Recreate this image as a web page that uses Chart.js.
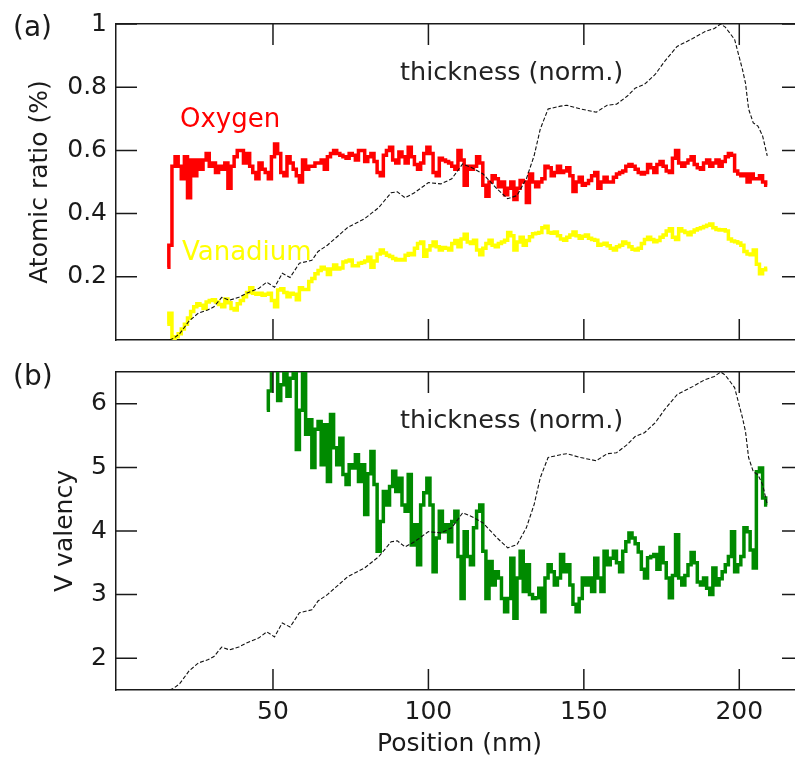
<!DOCTYPE html>
<html><head><meta charset="utf-8">
<script src="https://cdn.jsdelivr.net/npm/chart.js@4.4.1/dist/chart.umd.min.js"></script>
<style>
html,body{margin:0;padding:0;background:#fff;overflow:hidden;width:795px;height:763px;}
#wa{position:absolute;left:0;top:0;width:806px;height:360px;}
#wb{position:absolute;left:0;top:360px;width:806px;height:403px;}
canvas{display:block;}
</style></head><body>
<div id="wa"><canvas id="ca" width="806" height="360"></canvas></div>
<div id="wb"><canvas id="cb" width="806" height="403"></canvas></div>
<script>
// ---------- data ----------
const xTicks = [50, 100, 150, 200];
const ratioTicks = [0.2, 0.4, 0.6, 0.8, 1];
const valencyTicks = [2, 3, 4, 5, 6];
const xTitle = 'Position (nm)';

// sampling positions (nm) for the noisy profiles
const positions = [
  16,17,18,19,20,21,22,23,24,25,26,27,28,29,30,31,32,33,34,35,
  36,37,38,39,40,41,42,43,44,45,46,47,48,49,50,51,52,53,54,55,
  56,57,58,59,60,61,62,63,64,65,66,67,68,69,70,71,72,73,74,75,
  76,77,78,79,80,81,82,83,84,85,86,87,88,89,90,91,92,93,94,95,
  96,97,98,99,100,101,102,103,104,105,106,107,108,109,110,111,112,113,114,115,
  116,117,118,119,120,121,122,123,124,125,126,127,128,129,130,131,132,133,134,135,
  136,137,138,139,140,141,142,143,144,145,146,147,148,149,150,151,152,153,154,155,
  156,157,158,159,160,161,162,163,164,165,166,167,168,169,170,171,172,173,174,175,
  176,177,178,179,180,181,182,183,184,185,186,187,188,189,190,191,192,193,194,195,
  196,197,198,199,200,201,202,203,204,205,206,207,208,209
];

const oxygen = [
  0.23,0.30,0.55,0.58,0.55,0.51,0.58,0.45,0.57,0.52,
  0.57,0.54,0.57,0.59,0.55,0.56,0.53,0.55,0.54,0.56,
  0.48,0.55,0.58,0.60,0.60,0.56,0.59,0.55,0.53,0.51,
  0.56,0.54,0.53,0.51,0.58,0.62,0.59,0.53,0.52,0.58,
  0.56,0.54,0.52,0.50,0.57,0.54,0.55,0.55,0.56,0.56,
  0.57,0.54,0.58,0.59,0.60,0.59,0.585,0.58,0.575,0.59,
  0.585,0.57,0.60,0.60,0.565,0.58,0.59,0.565,0.53,0.52,
  0.585,0.60,0.61,0.57,0.56,0.595,0.58,0.56,0.61,0.58,
  0.555,0.54,0.56,0.59,0.61,0.59,0.53,0.52,0.575,0.57,
  0.565,0.56,0.55,0.54,0.60,0.57,0.49,0.55,0.54,0.55,
  0.58,0.56,0.49,0.455,0.50,0.52,0.51,0.485,0.50,0.46,
  0.48,0.50,0.445,0.48,0.505,0.50,0.435,0.525,0.50,0.485,
  0.50,0.51,0.55,0.545,0.52,0.53,0.55,0.53,0.535,0.545,
  0.52,0.47,0.50,0.515,0.49,0.495,0.505,0.52,0.53,0.48,
  0.50,0.515,0.50,0.50,0.515,0.525,0.53,0.535,0.55,0.555,
  0.55,0.54,0.53,0.525,0.53,0.555,0.545,0.53,0.555,0.565,
  0.55,0.535,0.53,0.575,0.60,0.56,0.55,0.56,0.57,0.58,
  0.555,0.545,0.54,0.56,0.57,0.55,0.56,0.57,0.55,0.565,
  0.58,0.59,0.585,0.535,0.525,0.52,0.525,0.50,0.525,0.51,
  0.51,0.52,0.50,0.49
];

const vanadium = [
  0.05,0.085,0.005,0.01,0.02,0.035,0.05,0.07,0.09,0.105,
  0.115,0.11,0.10,0.12,0.125,0.127,0.12,0.112,0.105,0.13,
  0.118,0.10,0.095,0.115,0.125,0.137,0.15,0.165,0.148,0.145,
  0.148,0.142,0.145,0.148,0.125,0.105,0.158,0.162,0.15,0.137,
  0.148,0.145,0.127,0.165,0.16,0.16,0.185,0.195,0.21,0.22,
  0.23,0.225,0.207,0.225,0.237,0.225,0.228,0.247,0.25,0.253,
  0.235,0.235,0.243,0.245,0.25,0.262,0.23,0.25,0.272,0.285,
  0.275,0.268,0.264,0.258,0.253,0.255,0.253,0.268,0.274,0.27,
  0.29,0.305,0.31,0.265,0.285,0.298,0.31,0.295,0.285,0.293,
  0.29,0.285,0.305,0.315,0.295,0.32,0.335,0.31,0.305,0.316,
  0.285,0.27,0.29,0.305,0.316,0.30,0.295,0.305,0.31,0.316,
  0.34,0.33,0.285,0.31,0.325,0.30,0.315,0.327,0.336,0.338,
  0.34,0.355,0.36,0.34,0.338,0.342,0.33,0.32,0.316,0.325,
  0.332,0.342,0.33,0.322,0.328,0.332,0.322,0.318,0.316,0.30,
  0.303,0.306,0.298,0.29,0.285,0.295,0.30,0.31,0.305,0.295,
  0.287,0.285,0.29,0.305,0.318,0.325,0.318,0.311,0.315,0.325,
  0.332,0.345,0.352,0.325,0.318,0.352,0.345,0.34,0.333,0.342,
  0.348,0.352,0.355,0.359,0.363,0.367,0.355,0.35,0.348,0.349,
  0.345,0.32,0.313,0.311,0.307,0.30,0.28,0.272,0.27,0.285,
  0.24,0.21,0.222,0.227
];

// V valency starts at 48 nm
const valencyStart = 48;
const valency = [
  5.9,6.2,6.7,6.7,6.05,6.3,6.7,6.12,6.4,6.7,
  5.28,5.9,6.7,5.52,5.75,5.0,5.6,5.72,5.04,5.67,
  4.78,5.83,5.31,5.04,5.46,4.89,4.73,5.04,4.99,5.2,
  4.78,5.04,4.26,4.9,5.25,4.73,3.68,4.15,4.62,4.41,
  4.7,4.94,4.62,4.83,4.41,4.31,4.89,3.78,4.1,3.47,
  4.41,4.6,4.83,4.41,3.36,3.89,4.31,3.99,4.1,3.83,
  4.15,4.31,3.6,2.94,3.99,3.6,3.47,4.05,4.31,4.41,
  3.68,2.94,3.52,3.15,3.36,3.26,2.94,2.73,2.94,3.57,
  2.63,3.26,3.68,3.05,3.47,3.0,2.94,2.95,3.1,2.73,
  3.26,3.47,3.36,3.15,3.26,3.63,3.36,3.47,3.15,2.85,
  2.73,2.94,3.26,3.15,3.26,3.05,3.57,3.26,3.05,3.68,
  3.47,3.57,3.68,3.5,3.36,3.68,3.83,3.97,3.89,3.8,
  3.67,3.4,3.26,3.58,3.6,3.63,3.4,3.74,3.5,3.26,
  2.95,3.3,3.94,3.26,3.15,3.3,3.47,3.66,3.5,3.2,
  3.15,3.26,3.1,3.0,3.42,3.15,3.25,3.36,3.47,3.6,
  3.99,3.36,3.47,3.6,4.05,3.99,3.7,3.42,4.93,4.99,
  4.52,4.41
];

// normalized thickness profile
const thickPos = [16.7,18,20,23,26,29,31,33.5,36,39,41.5,45.5,48,50.5,53,55.5,58.5,62.5,64.5,67.5,
  71,74,79.5,84,88,90,92.5,95.5,100,104,107.5,111,114,117.5,122,125.5,128.5,131.5,134,136,
  138.5,142.5,144.5,149,154,157.5,160.5,164,166.5,169.5,173,176,180,185,189,192,194,195.5,198.5,201,
  202,203,204.5,206,207.5,209];
const thickVal = [0,0.005,0.02,0.06,0.085,0.095,0.105,0.135,0.126,0.135,0.148,0.164,0.183,0.167,0.211,0.198,0.243,0.252,0.28,0.30,
  0.33,0.356,0.384,0.419,0.466,0.469,0.45,0.466,0.498,0.494,0.51,0.557,0.545,0.526,0.479,0.447,0.457,0.51,0.583,0.668,
  0.731,0.74,0.743,0.731,0.721,0.743,0.746,0.772,0.797,0.809,0.841,0.882,0.929,0.954,0.976,0.986,1.0,0.99,0.951,0.857,
  0.813,0.731,0.687,0.677,0.646,0.583];

// ---------- styling / layout ----------
const X_MIN = -0.5, X_MAX = 220.5;
const INK = '#1a1a1a';
const FF = 'DejaVu Sans';
const TICK_LEN = 21;
Chart.defaults.font.family = FF;
Chart.defaults.color = INK;

const pts = (xs, ys) => ys.map((y, i) => ({x: xs[i], y}));
const valencyPos = positions.filter(p => p >= valencyStart);

function noGrid() { return {drawOnChartArea:false, drawTicks:false}; }
function frame() { return {display:true, color:INK, width:1.5}; }
function fixedTicks(list) { return s => { s.ticks = list.map(v => ({value: v})); }; }
function fitTo(w, h) {
  return s => {
    if (w !== null) s.width = w;
    if (h !== null) s.height = h;
    s.paddingTop = 0; s.paddingBottom = 0; s.paddingLeft = 0; s.paddingRight = 0;
  };
}

function makeScales(cfg) {
  const sc = {
    x: {type:'linear', axis:'x', position:'bottom', min:X_MIN, max:X_MAX, bounds:'data',
      afterBuildTicks: fixedTicks(xTicks), afterFit: fitTo(null, cfg.xHeight),
      grid: noGrid(), border: frame(),
      ticks: {display: cfg.xLabels, padding: 7.5, font:{size:25}, color:INK, maxRotation:0, autoSkip:false, callback: v => String(v)},
      title: {display: cfg.xLabels, text: xTitle, font:{size:25}, color:INK, padding:{top:0, bottom:4}}},
    x2: {type:'linear', axis:'x', position:'top', min:X_MIN, max:X_MAX, bounds:'data',
      afterBuildTicks: fixedTicks(xTicks), afterFit: fitTo(null, 0),
      grid: noGrid(), border: frame(), ticks:{display:false}},
    y: {type:'linear', axis:'y', position:'left', min:cfg.yMin, max:cfg.yMax, bounds:'data',
      afterBuildTicks: fixedTicks(cfg.yTicks), afterFit: fitTo(116, null),
      grid: noGrid(), border: frame(),
      ticks: {padding:9, font:{size:25}, color:INK, autoSkip:false, callback: v => String(v)},
      title: {display:true, text:cfg.yTitle, font:{size:25}, color:INK, padding:{top:cfg.yTitlePad, bottom:0}}},
    y2: {type:'linear', axis:'y', position:'right', min:cfg.yMin, max:cfg.yMax, bounds:'data',
      afterBuildTicks: fixedTicks(cfg.yTicks), afterFit: fitTo(0, null),
      grid: noGrid(), border: frame(), ticks:{display:false}}
  };
  if (cfg.extra) Object.assign(sc, cfg.extra);
  return sc;
}

// tick marks pointing into the plot, placed through the chart's own scales
const insideTicks = {
  id: 'insideTicks',
  afterDatasetsDraw(chart) {
    const ctx = chart.ctx, a = chart.chartArea;
    ctx.save();
    ctx.strokeStyle = INK;
    ctx.lineWidth = 1.5;
    ctx.beginPath();
    const sides = [['x', 'bottom'], ['x2', 'top'], ['y', 'left'], ['y2', 'right']];
    for (const [id, side] of sides) {
      const s = chart.scales[id];
      for (const t of s.ticks) {
        const p = s.getPixelForValue(t.value);
        if (side === 'bottom') { ctx.moveTo(p, a.bottom); ctx.lineTo(p, a.bottom - TICK_LEN); }
        else if (side === 'top') { ctx.moveTo(p, a.top); ctx.lineTo(p, a.top + TICK_LEN); }
        else if (side === 'left') { ctx.moveTo(a.left, p); ctx.lineTo(a.left + TICK_LEN, p); }
        else { ctx.moveTo(a.right, p); ctx.lineTo(a.right - TICK_LEN, p); }
      }
    }
    ctx.stroke();
    ctx.restore();
  }
};

function textPlugin(items) {
  return {
    id: 'texts',
    afterDraw(chart) {
      const ctx = chart.ctx;
      ctx.save();
      ctx.textAlign = 'left';
      ctx.textBaseline = 'alphabetic';
      for (const t of items) {
        ctx.font = t.size + 'px "' + FF + '"';
        ctx.fillStyle = t.color;
        ctx.fillText(t.text, t.x, t.y);
      }
      ctx.restore();
    }
  };
}

const thickStyle = {borderColor:'#111', borderWidth:1.1, borderDash:[4,2], pointRadius:0, tension:0, clip:0};
const noisyStyle = c => ({borderColor:c, borderWidth:3.5, pointRadius:0, stepped:'middle', borderJoinStyle:'miter', borderCapStyle:'butt', clip:0});

const common = {
  responsive:false, animation:false, devicePixelRatio:1, events:[],
  plugins:{legend:{display:false}, tooltip:{enabled:false}}
};

new Chart(document.getElementById('ca'), {
  type:'line',
  data:{datasets:[
    Object.assign({label:'thickness (norm.)', data: pts(thickPos, thickVal), xAxisID:'x', yAxisID:'y'}, thickStyle),
    Object.assign({label:'Oxygen', data: pts(positions, oxygen), xAxisID:'x', yAxisID:'y'}, noisyStyle('#ff0000')),
    Object.assign({label:'Vanadium', data: pts(positions, vanadium), xAxisID:'x', yAxisID:'y'}, noisyStyle('#ffff00'))
  ]},
  options: Object.assign({}, common, {
    layout:{autoPadding:false, padding:{left:0, right:3, top:24, bottom:0}},
    scales: makeScales({yMin:0, yMax:1, yTicks:ratioTicks, yTitle:'Atomic ratio (%)', yTitlePad:25, xLabels:false, xHeight:20})
  }),
  plugins:[insideTicks, textPlugin([
    {text:'(a)', x:13, y:36, size:28, color:INK},
    {text:'Oxygen', x:180, y:127, size:26, color:'#ff0000'},
    {text:'Vanadium', x:182, y:260, size:26, color:'#ffff00'},
    {text:'thickness (norm.)', x:400, y:80, size:25.5, color:'#222'}
  ])]
});

new Chart(document.getElementById('cb'), {
  type:'line',
  data:{datasets:[
    Object.assign({label:'thickness (norm.)', data: pts(thickPos, thickVal), xAxisID:'x', yAxisID:'yT'}, thickStyle),
    Object.assign({label:'V valency', data: pts(valencyPos, valency), xAxisID:'x', yAxisID:'y'}, noisyStyle('#008a00'))
  ]},
  options: Object.assign({}, common, {
    layout:{autoPadding:false, padding:{left:0, right:3, top:12, bottom:0}},
    scales: makeScales({yMin:1.5, yMax:6.5, yTicks:valencyTicks, yTitle:'V valency', yTitlePad:50, xLabels:true, xHeight:73,
      extra:{yT:{type:'linear', axis:'y', position:'left', display:false, min:0, max:1, bounds:'data'}}})
  }),
  plugins:[insideTicks, textPlugin([
    {text:'(b)', x:13, y:24.5, size:28, color:INK},
    {text:'thickness (norm.)', x:400, y:68, size:25.5, color:'#222'}
  ])]
});
</script>
</body></html>
